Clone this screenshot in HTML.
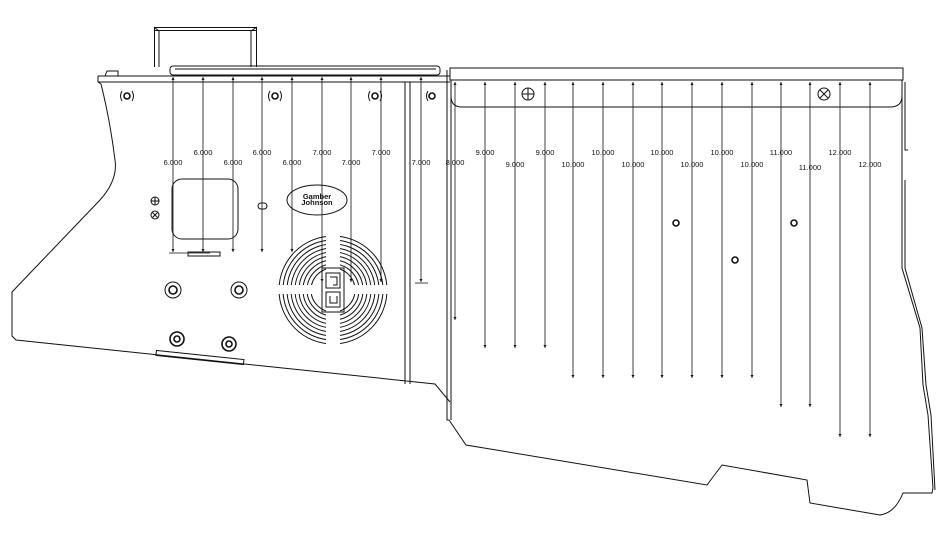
<!DOCTYPE html>
<html><head><meta charset="utf-8"><style>
html,body{margin:0;padding:0;background:#fff;}
svg{display:block}
text{font-family:"Liberation Sans",sans-serif;font-size:7.5px;fill:#111;text-anchor:middle}
</style></head><body>
<svg width="950" height="535" viewBox="0 0 950 535" xmlns="http://www.w3.org/2000/svg">
<defs>
<marker id="a" viewBox="0 0 10 10" refX="10" refY="5" markerWidth="3" markerHeight="8" orient="auto-start-reverse" markerUnits="userSpaceOnUse"><path d="M0,0 L10,5 L0,10 z" fill="#111"/></marker>
</defs>
<g fill="none" stroke="#111" stroke-width="1">
<!-- handle -->
<path d="M154.5,67 L154.5,27.5 L256.5,27.5 L256.5,67"/>
<line x1="159" y1="31" x2="159" y2="67"/><line x1="251" y1="31" x2="251" y2="67"/>
<line x1="154" y1="27" x2="159" y2="31"/><line x1="257" y1="27" x2="251" y2="31"/>
<line x1="154" y1="30.5" x2="257" y2="30.5"/>
<rect x="170" y="66" width="270" height="9" rx="3"/>
<line x1="175" y1="69" x2="436" y2="69"/>
<!-- left piece -->
<path d="M98,76 L450,76 M98,76 L98,82 L101,84 Q110,120 115,160 Q118,180 100,200 L12,292 L12,336 L16,340 L435,384 L450,402"/>
<line x1="98" y1="82" x2="450" y2="82"/>
<line x1="405" y1="82" x2="405" y2="384"/><line x1="410" y1="82" x2="410" y2="384"/>
<path d="M105,76 L107,71 L118,71 L118,76"/>
<rect x="156" y="355" width="88" height="5" transform="rotate(6 200 357)"/>
<!-- right piece -->
<rect x="450" y="68" width="453" height="12"/>
<path d="M451,80 L451,96 Q451,107 462,107 L890,107 Q902,107 902,96 L902,80"/>
<path d="M447,70 L447,420 L449,420 L466,445 L707,485 L722,465 L807,480 L810,503 L880,515 Q895,513 903,493 L932,493 L933,488 L928,415 L923,385 L920,328 L902,268 L902,80"/>
<line x1="451" y1="80" x2="451" y2="420"/>
<path d="M905,82 L905,150 L908,150 M905,180 L905,268 L922,328 L926,385 L931,415 L935,490"/>
<!-- holes -->
<g stroke-width="1.6">
<circle cx="127" cy="96" r="3"/><circle cx="275" cy="96" r="3"/><circle cx="375" cy="96" r="3"/><circle cx="432" cy="96" r="3"/>
<circle cx="173" cy="290" r="4"/><circle cx="173" cy="290" r="8" stroke-width="1"/>
<circle cx="239" cy="290" r="4"/><circle cx="239" cy="290" r="8" stroke-width="1"/>
<circle cx="177" cy="339" r="3"/><circle cx="177" cy="339" r="7"/>
<circle cx="229" cy="344" r="3"/><circle cx="229" cy="344" r="7"/>
<circle cx="676" cy="223" r="3"/><circle cx="735" cy="260" r="3"/><circle cx="794" cy="223" r="3"/>
</g>
<path d="M122,91 Q119,96 122,101 M132,91 Q135,96 132,101 M270,91 Q267,96 270,101 M280,91 Q283,96 280,101 M370,91 Q367,96 370,101 M380,91 Q383,96 380,101 M428,91 Q425,96 428,101"/>
<circle cx="155" cy="201" r="4"/><circle cx="155" cy="215" r="4"/>
<path d="M151,201 h8 M155,197 v8 M152,212 l6,6 M158,212 l-6,6"/>
<circle cx="528" cy="94" r="6"/><path d="M522,94 h12 M528,88 v12"/>
<circle cx="824" cy="94" r="6"/><path d="M820,90 l8,8 M828,90 l-8,8"/>
<rect x="172" y="179" width="66" height="60" rx="10"/>
<rect x="188" y="252" width="32" height="4"/>
<rect x="258" y="203" width="9" height="6" rx="3"/>
<ellipse cx="317" cy="200" rx="30" ry="15"/>
<!-- fan -->
<circle cx="333" cy="290" r="22"/><circle cx="333" cy="290" r="26"/><circle cx="333" cy="290" r="30"/><circle cx="333" cy="290" r="34"/><circle cx="333" cy="290" r="38"/><circle cx="333" cy="290" r="42"/><circle cx="333" cy="290" r="46"/><circle cx="333" cy="290" r="50"/><circle cx="333" cy="290" r="54"/>
</g>
<rect x="326" y="230" width="14" height="122" fill="#fff"/>
<rect x="274" y="285" width="118" height="9" fill="#fff"/>
<g fill="none" stroke="#111" stroke-width="1">
<rect x="322" y="268" width="22" height="44"/>
<rect x="326" y="273" width="14" height="15"/>
<rect x="326" y="292" width="14" height="15"/>
<path d="M330,277 h7 v8 h-4"/><path d="M330,296 v7 h7 v-7"/>
</g>
<text x="317" y="199" font-size="5" font-weight="bold">Gamber</text>
<text x="317" y="205" font-size="5" font-weight="bold">Johnson</text>
<!-- dimensions -->
<g stroke="#111" stroke-width="0.8" marker-start="url(#a)" marker-end="url(#a)">
<line x1="173" y1="77" x2="173" y2="252"/><line x1="203" y1="77" x2="203" y2="252"/><line x1="233" y1="77" x2="233" y2="252"/><line x1="262" y1="77" x2="262" y2="252"/><line x1="292" y1="77" x2="292" y2="252"/>
<line x1="322" y1="77" x2="322" y2="282"/><line x1="351" y1="77" x2="351" y2="282"/><line x1="381" y1="77" x2="381" y2="282"/><line x1="421" y1="77" x2="421" y2="282"/>
<line x1="455" y1="82" x2="455" y2="320"/>
<line x1="485" y1="82" x2="485" y2="348"/><line x1="515" y1="82" x2="515" y2="348"/><line x1="545" y1="82" x2="545" y2="348"/>
<line x1="573" y1="82" x2="573" y2="378"/><line x1="603" y1="82" x2="603" y2="378"/><line x1="633" y1="82" x2="633" y2="378"/><line x1="662" y1="82" x2="662" y2="378"/><line x1="692" y1="82" x2="692" y2="378"/><line x1="722" y1="82" x2="722" y2="378"/><line x1="752" y1="82" x2="752" y2="378"/>
<line x1="781" y1="82" x2="781" y2="407"/><line x1="810" y1="82" x2="810" y2="407"/>
<line x1="840" y1="82" x2="840" y2="437"/><line x1="870" y1="82" x2="870" y2="437"/>
</g>
<g stroke="#111" stroke-width="0.8">
<line x1="169" y1="253" x2="210" y2="253"/><line x1="415" y1="283" x2="428" y2="283"/>
</g>
<text x="173" y="165">6.000</text><text x="203" y="155">6.000</text><text x="233" y="165">6.000</text><text x="262" y="155">6.000</text><text x="292" y="165">6.000</text>
<text x="322" y="155">7.000</text><text x="351" y="165">7.000</text><text x="381" y="155">7.000</text><text x="421" y="165">7.000</text><text x="455" y="165">8.000</text>
<text x="485" y="155">9.000</text><text x="515" y="167">9.000</text><text x="545" y="155">9.000</text>
<text x="573" y="167">10.000</text><text x="603" y="155">10.000</text><text x="633" y="167">10.000</text><text x="662" y="155">10.000</text><text x="692" y="167">10.000</text><text x="722" y="155">10.000</text><text x="752" y="167">10.000</text>
<text x="781" y="155">11.000</text><text x="810" y="170">11.000</text><text x="840" y="155">12.000</text><text x="870" y="167">12.000</text>
</svg>
</body></html>
